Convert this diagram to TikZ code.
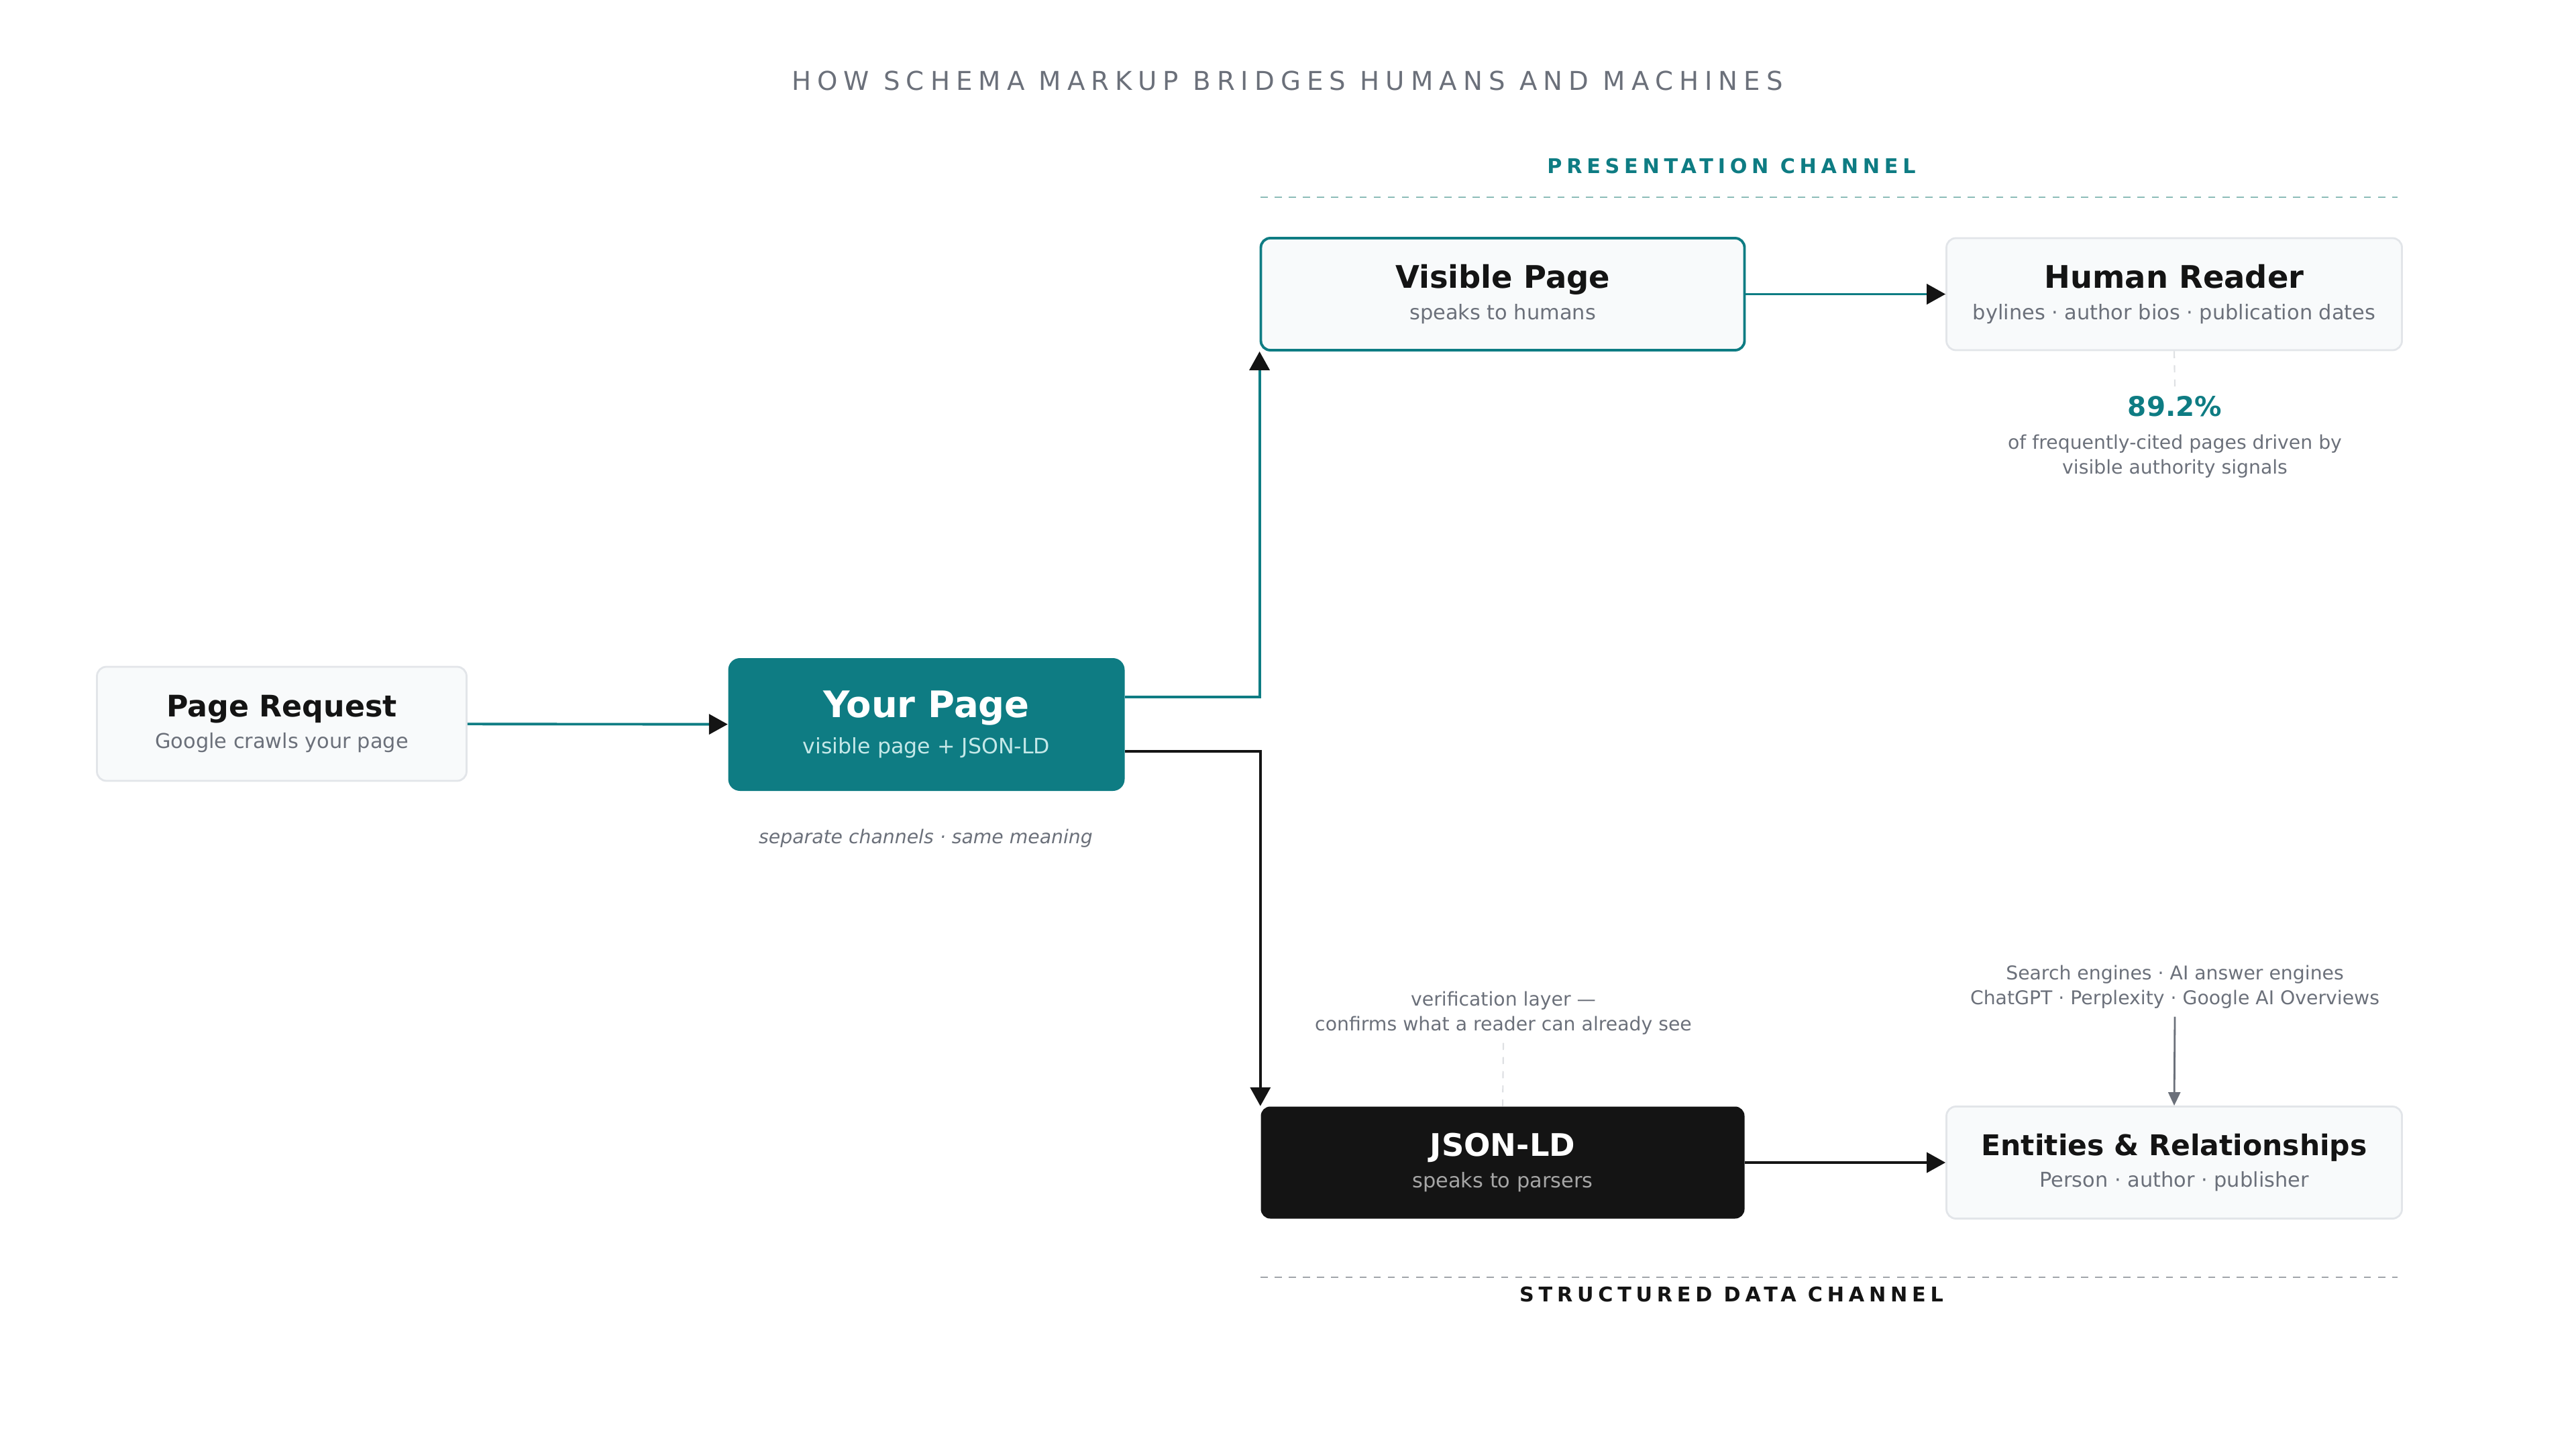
\documentclass[tikz,border=0pt]{standalone}
\usepackage{fontspec}
\setmainfont{DejaVu Sans}
\newfontfamily\spacedfont{DejaVu Sans}[LetterSpace=23.5]
\newfontfamily\channelfont{DejaVu Sans}[LetterSpace=22.3]
\definecolor{schemateal}{RGB}{14, 124, 131}
\definecolor{inkdark}{RGB}{20, 20, 20}
\definecolor{mutedgray}{RGB}{107, 112, 122}
\definecolor{boxfill}{RGB}{248, 250, 251}
\definecolor{boxline}{RGB}{226, 229, 233}
\definecolor{paletealtext}{RGB}{196, 232, 232}
\definecolor{tealdash}{RGB}{140, 188, 184}
\definecolor{graydash}{RGB}{160, 165, 170}
\definecolor{faintline}{RGB}{222, 224, 227}
\usetikzlibrary{arrows.meta, positioning}

\begin{document}
\begin{tikzpicture}[
  card/.style={rounded corners=4pt, minimum width=7.21cm, minimum height=1.67cm, align=center, inner sep=0pt,
    font=\fontsize{8.65}{13.3}\selectfont, text=mutedgray},
  lightcard/.style={card, draw=boxline, line width=0.8pt, fill=boxfill},
  note/.style={align=center, text=mutedgray, font=\fontsize{8.05}{10.5}\selectfont},
  flow/.style={line width=1.1pt, -{Triangle[length=0.28cm, width=0.3cm, color=inkdark]}},
]
  \useasboundingbox (0,0) rectangle (38.4,-21.6);

  % heading and channel labels
  \node[text=mutedgray, font=\fontsize{11}{13}\selectfont\spacedfont] (title) at (19.19, -1.20) {HOW SCHEMA MARKUP BRIDGES HUMANS AND MACHINES};
  \node[text=schemateal, font=\fontsize{8.6}{10}\selectfont\channelfont\bfseries] (preslabel) at (25.81, -2.48) {PRESENTATION CHANNEL};
  \coordinate (presL) at (18.79, -2.94);
  \coordinate (presR) at (35.74, -2.94);
  \draw[tealdash, dashed, line width=0.8pt] (presL) -- (presR);

  % left side
  \node[lightcard, minimum width=5.51cm, minimum height=1.70cm] (request) at (4.20, -10.79) {
    {\color{inkdark}\fontsize{12.6}{15}\selectfont\bfseries Page Request}\\
    Google crawls your page};
  \node[card, fill=schemateal, minimum width=5.91cm, minimum height=1.98cm, rounded corners=5pt,
    font=\fontsize{9}{15.4}\selectfont, text=paletealtext] (yourpage) at (13.81, -10.80) {
    {\color{white}\fontsize{15.5}{18}\selectfont\bfseries Your Page}\\
    visible page + JSON-LD};
  \node[text=mutedgray, font=\fontsize{8.05}{10}\selectfont\itshape] (samemeaning) at (13.80, -12.50) {separate channels · same meaning};

  % presentation channel
  \node[card, draw=schemateal, line width=1.1pt, fill=boxfill] (visible) at (22.40, -4.385) {
    {\color{inkdark}\fontsize{13.2}{15}\selectfont\bfseries Visible Page}\\
    speaks to humans};
  \node[lightcard, minimum width=6.79cm] (reader) at (32.41, -4.385) {
    {\color{inkdark}\fontsize{13.2}{15}\selectfont\bfseries Human Reader}\\
    bylines · author bios · publication dates};
  \node[text=schemateal, font=\fontsize{11.5}{13}\selectfont\bfseries] (stat) at (32.42, -6.06) {89.2\%};
  \node[note, below=0.02cm of stat] (statnote) {of frequently-cited pages driven by\\visible authority signals};

  % structured data channel
  \node[card, fill=inkdark, text=black!35] (jsonld) at (22.40, -17.33) {
    {\color{white}\fontsize{13.2}{15}\selectfont\bfseries JSON-LD}\\
    speaks to parsers};
  \node[lightcard, minimum width=6.79cm] (entities) at (32.41, -17.33) {
    {\color{inkdark}\fontsize{12.1}{15}\selectfont\bfseries Entities \& Relationships}\\
    Person · author · publisher};
  \node[note] (verify) at (22.41, -15.10) {verification layer —\\confirms what a reader can already see};
  \node[note] (engines) at (32.42, -14.71) {Search engines · AI answer engines\\ChatGPT · Perplexity · Google AI Overviews};
  \coordinate (structL) at (18.79, -19.04);
  \coordinate (structR) at (35.74, -19.04);
  \draw[graydash, dashed, line width=0.8pt] (structL) -- (structR);
  \node[text=inkdark, font=\fontsize{8.6}{10}\selectfont\channelfont\bfseries] (structlabel) at (25.81, -19.29) {STRUCTURED DATA CHANNEL};

  % connectors
  \draw[flow, schemateal] (request) -- (yourpage);
  \draw[flow, schemateal] ([yshift=0.41cm]yourpage.east) -| (visible.south west);
  \draw[flow, inkdark] ([yshift=-0.40cm]yourpage.east) -| (jsonld.north west);
  \draw[flow, schemateal] (visible) -- (reader);
  \draw[flow, inkdark] (jsonld) -- (entities);
  \draw[faintline, dashed, line width=0.6pt] (reader.south) -- (stat.north);
  \draw[faintline, dashed, line width=0.6pt] (verify.south) -- (jsonld.north);
  \draw[mutedgray, line width=0.8pt, -{Triangle[length=0.2cm, width=0.18cm]}] (engines.south) -- (entities.north);
\end{tikzpicture}
\end{document}
